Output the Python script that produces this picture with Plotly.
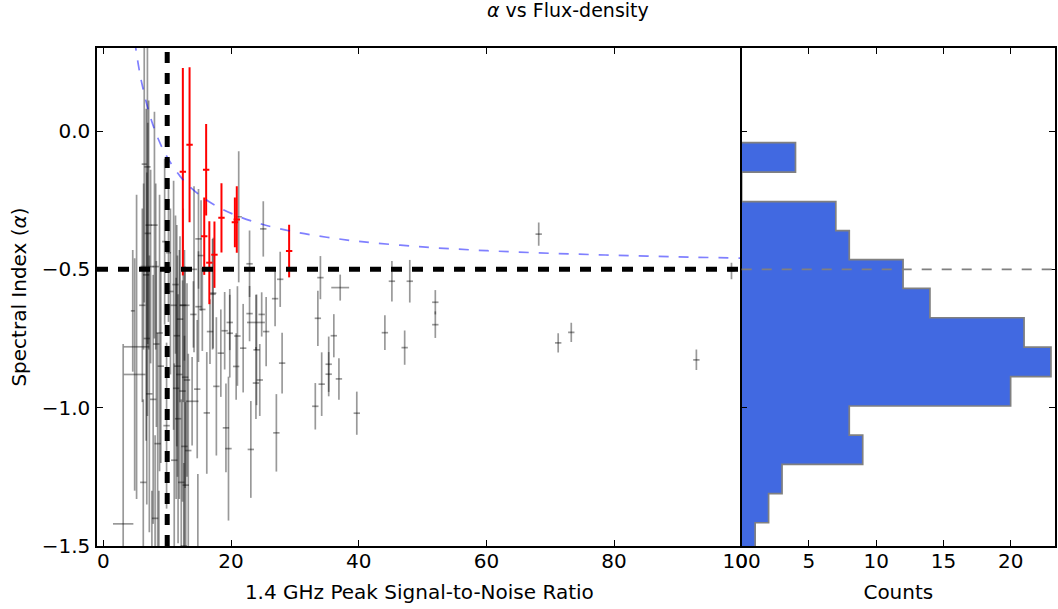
import plotly.graph_objects as go

# ---------------- data ----------------
# grey sources: SNR, alpha, SNR error, alpha error
grey_snr = [3.1, 5.2, 4.9, 4.6, 6.9, 6.8, 6.4, 7.1, 6.95, 8.0, 7.4, 6.3, 6.7, 8.2, 6.1, 7.2,
            6.25, 8.1, 8.5, 8.8, 8.3, 9.0, 7.8, 9.9, 9.6, 10.2, 10.5, 11.3, 11.0, 11.6,
            11.9, 11.4, 11.7, 11.1, 12.5, 12.8, 12.2, 11.5, 12.0, 13.1, 12.4, 12.7, 13.3,
            12.9, 14.1, 14.9, 15.5, 17.1, 16.7, 18.4, 19.0, 19.8, 19.8, 21.0, 20.8, 21.9,
            22.9, 23.9, 24.8, 25.5, 24.0, 23.9, 24.5, 26.9, 28.0, 27.1, 23.1, 19.2, 19.6,
            17.7, 16.2, 13.9, 14.7, 14.8, 12.7, 27.7, 34.0, 37.1, 33.6, 36.1, 35.3, 35.3,
            34.2, 36.9, 33.2, 39.7, 44.1, 45.2, 47.2, 48.0, 52.0, 52.0, 68.2, 71.25, 73.3,
            92.9, 98.4, 21.2, 25.05, 22.9, 14.9, 15.3, 17.2, 14.2, 7.6, 8.7, 12.6]
grey_alpha = [-1.42, -0.78, -0.88, -0.65, -0.13, -0.75, -0.12, -0.34, -0.37, -0.34, -0.49, -0.49,
              -0.52, -0.49, -0.63, -0.95, -1.27, -1.40, -1.13, -0.73, -0.77, -0.85, -0.97,
              -1.065, -0.40, -0.44, -0.58, -0.555, -0.63, -0.85, -0.88, -0.93, -1.04, -1.19,
              -0.63, -0.89, -1.27, -0.74, -0.68, -0.90, -0.94, -1.14, -1.155, -1.28, -0.663,
              -0.635, -0.645, -0.59, -0.725, -0.803, -0.722, -0.692, -0.731, -0.741, -0.851,
              -0.785, -0.66, -0.692, -0.663, -0.725, -0.791, -0.911, -0.90, -0.606, -0.839,
              -1.091, -1.151, -1.073, -1.148, -0.923, -1.019, -0.977, -0.933, -1.55, -0.63,
              -0.536, -0.53, -0.566, -0.677, -0.74, -0.843, -0.879, -0.915, -0.896, -0.995,
              -1.02, -0.729, -0.543, -0.783, -0.543, -0.619, -0.70, -0.373, -0.766, -0.728,
              -0.827, -0.506, -0.31, -0.354, -0.48, -0.39, -0.45, -0.586, -0.50, -1.55, -1.6,
              -1.5]
grey_snr_err = [1.6, 2.0, 1.7, 0.3, 0.5, 0.5, 0.4, 0.5, 0.5, 0.5, 0.5, 0.5, 0.5, 0.5, 0.5, 0.5,
                0.5, 0.5, 0.5, 0.5, 0.5, 0.5, 0.5, 0.5, 0.4, 0.4, 0.5, 0.5, 0.5, 0.5,
                0.5, 0.5, 0.5, 0.5, 0.5, 0.5, 0.5, 0.5, 0.5, 0.5, 0.5, 0.5, 0.5,
                0.5, 0.5, 0.5, 0.5, 0.5, 0.5, 0.5, 0.5, 0.5, 0.5, 0.5, 0.5, 0.5,
                0.5, 1.4, 0.5, 0.5, 0.5, 0.5, 0.5, 0.5, 0.5, 0.5, 0.5, 0.5, 0.5,
                0.5, 0.5, 1.0, 0.5, 0.5, 0.8, 0.5, 0.5, 1.4, 0.5, 0.5, 0.5, 0.5,
                0.5, 0.5, 0.5, 0.5, 0.5, 0.5, 0.5, 0.5, 0.5, 0.5, 0.5, 0.5, 0.5,
                0.5, 0.5, 0.5, 0.5, 0.5, 0.5, 0.5, 0.5, 0.5, 0.5, 0.5, 0.5]
grey_alpha_err = [0.65, 0.55, 0.42, 0.22, 0.9, 0.6, 0.5, 0.45, 0.4, 0.41, 0.35, 0.3, 0.6, 0.3,
                  0.35, 0.5, 0.3, 0.3, 0.4, 0.5, 0.3, 0.35, 0.45, 0.3, 0.3, 0.25, 0.3, 0.25,
                  0.45, 0.4, 0.45, 0.4, 0.45, 0.35, 0.35, 0.4, 0.3, 0.4, 0.3, 0.35, 0.4, 0.4,
                  0.35, 0.3, 0.12, 0.2, 0.15, 0.2, 0.117, 0.158, 0.14, 0.1, 0.16, 0.18, 0.12,
                  0.16, 0.1, 0.1, 0.08, 0.125, 0.2, 0.13, 0.13, 0.1, 0.11, 0.14, 0.175, 0.16,
                  0.26, 0.25, 0.22, 0.16, 0.25, 0.31, 0.2, 0.1, 0.078, 0.047, 0.1, 0.078, 0.1,
                  0.08, 0.115, 0.075, 0.084, 0.078, 0.063, 0.073, 0.062, 0.077, 0.044, 0.048,
                  0.042, 0.035, 0.035, 0.037, 0.03, 0.237, 0.1, 0.12, 0.18, 0.2, 0.2, 0.3,
                  0.25, 0.3, 0.3]

# red (selected) sources
red_snr = [12.45, 13.5, 15.8, 16.1, 16.6, 17.4, 18.5, 20.6, 20.9, 29.1]
red_alpha = [-0.147, -0.05, -0.38, -0.14, -0.476, -0.447, -0.314, -0.33, -0.32, -0.434]
red_snr_err = [0.5, 0.5, 0.5, 0.5, 0.5, 0.5, 0.5, 0.5, 0.5, 0.5]
red_alpha_err = [0.375, 0.28, 0.14, 0.165, 0.15, 0.12, 0.125, 0.09, 0.12, 0.095]

# blue dashed limit curve
curve_snr = [4.9, 5.5, 6.0, 7.0, 8.0, 9.0, 10.0, 12.0, 14.0, 16.0, 18.0, 21.0, 25.0, 30.0,
             35.0, 40.0, 50.0, 60.0, 70.0, 80.0, 90.0, 100.0]
curve_alpha = [0.327, 0.236, 0.175, 0.079, 0.006, -0.05, -0.095, -0.163, -0.211, -0.247,
               -0.275, -0.307, -0.338, -0.365, -0.384, -0.399, -0.419, -0.4325, -0.442,
               -0.449, -0.455, -0.4595]

# histogram of alpha
hist_edges = [-1.522, -1.416, -1.311, -1.205, -1.099, -0.994, -0.888, -0.781, -0.675,
              -0.569, -0.465, -0.360, -0.255, -0.149, -0.042]
hist_counts = [1, 2, 3, 9, 8, 20, 23, 21, 14, 12, 8, 7, 0, 4]

SNR_CUT = 10
ALPHA_CUT = -0.5

main_xticks = [0, 20, 40, 60, 80, 100]
hist_xticks = [0, 5, 10, 15, 20]
yticks = [0.0, -0.5, -1.0, -1.5]

# ---------------- figure ----------------
FONT = "DejaVu Sans"
W, H = 1058, 609
ml, mr, mt, mb = 97, 3, 48, 63
split = (741.7 - ml) / (W - ml - mr)

fig = go.Figure()

fig.add_trace(go.Scatter(
    x=grey_snr, y=grey_alpha, mode="markers",
    marker=dict(size=1, color="rgba(0,0,0,0)"),
    error_x=dict(type="data", array=grey_snr_err, color="rgba(0,0,0,0.4)", thickness=1.7, width=0),
    error_y=dict(type="data", array=grey_alpha_err, color="rgba(0,0,0,0.4)", thickness=1.7, width=0),
    xaxis="x", yaxis="y", showlegend=False, hoverinfo="skip"))

fig.add_trace(go.Scatter(
    x=red_snr, y=red_alpha, mode="markers",
    marker=dict(size=1, color="rgba(0,0,0,0)"),
    error_x=dict(type="data", array=red_snr_err, color="#ff0000", thickness=2, width=0),
    error_y=dict(type="data", array=red_alpha_err, color="#ff0000", thickness=2, width=0),
    xaxis="x", yaxis="y", showlegend=False, hoverinfo="skip"))

fig.add_trace(go.Scatter(
    x=curve_snr, y=curve_alpha, mode="lines",
    line=dict(color="rgba(0,0,255,0.5)", width=1.7, dash="10px,10px", shape="spline"),
    xaxis="x", yaxis="y", showlegend=False, hoverinfo="skip"))

# step-filled histogram outline
hx, hy = [0], [hist_edges[0]]
for i, c in enumerate(hist_counts):
    hx += [c, c]
    hy += [hist_edges[i], hist_edges[i + 1]]
hx.append(0)
hy.append(hist_edges[-1])
fig.add_trace(go.Scatter(
    x=hx, y=hy, mode="lines", fill="toself", fillcolor="#4169E1",
    line=dict(color="#808080", width=1.7),
    xaxis="x2", yaxis="y2", showlegend=False, hoverinfo="skip"))

# reference lines
fig.add_shape(type="line", xref="x domain", yref="y", x0=0, x1=1, y0=ALPHA_CUT, y1=ALPHA_CUT,
              line=dict(color="black", width=5, dash="11px,10px"))
fig.add_shape(type="line", xref="x", yref="y domain", x0=SNR_CUT, x1=SNR_CUT, y0=0, y1=1,
              line=dict(color="black", width=5, dash="11px,10px"))
fig.add_shape(type="line", xref="x2 domain", yref="y2", x0=0, x1=1, y0=ALPHA_CUT, y1=ALPHA_CUT,
              line=dict(color="#808080", width=1.7, dash="10px,10px"))

fig.add_annotation(text="<i>α</i> vs Flux-density", xref="paper", yref="paper",
                   x=(568 - ml) / (W - ml - mr), y=1 + 38 / (H - mt - mb),
                   xanchor="center", yanchor="middle", showarrow=False,
                   font=dict(family=FONT, size=19, color="black"))

axis_common = dict(showline=True, linecolor="black", linewidth=1.5,
                   ticks="inside", ticklen=6, tickwidth=1.2, tickcolor="black",
                   showgrid=False, zeroline=False, automargin=False,
                   tickfont=dict(family=FONT, size=20, color="black"))

fig.update_layout(
    width=W, height=H,
    margin=dict(l=ml, r=mr, t=mt, b=mb),
    paper_bgcolor="white", plot_bgcolor="white",
    font=dict(family=FONT, size=20, color="black"),
    xaxis=dict(domain=[0, split], range=[-1, 100], tickvals=main_xticks, mirror="allticks",
               ticklabelstandoff=-4,
               title=dict(text="1.4 GHz Peak Signal-to-Noise Ratio",
                          font=dict(family=FONT, size=20), standoff=13),
               anchor="y", **axis_common),
    yaxis=dict(domain=[0, 1], range=[-1.5, 0.3], tickvals=yticks, tickformat=".1f",
               mirror=False, ticklabelstandoff=1,
               title=dict(text="Spectral Index (<i>α</i>)", font=dict(family=FONT, size=20), standoff=10),
               anchor="x", **axis_common),
    xaxis2=dict(domain=[split, 1], range=[0, 23.3], tickvals=hist_xticks, mirror="allticks",
                ticklabelstandoff=-4,
                title=dict(text="Counts", font=dict(family=FONT, size=20), standoff=13),
                anchor="y2", **axis_common),
    yaxis2=dict(domain=[0, 1], matches="y", range=[-1.5, 0.3], tickvals=yticks, mirror="allticks",
                showticklabels=False, anchor="x2", **axis_common),
)

fig.write_html("out.html", config={"displayModeBar": False},
               post_script="document.body.style.margin='0';document.body.style.overflow='hidden';")
